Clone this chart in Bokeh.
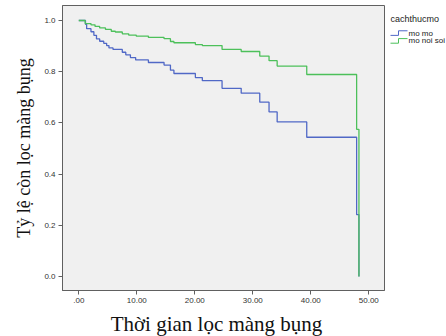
from bokeh.plotting import figure
from bokeh.layouts import row, column
from bokeh.models import FixedTicker, Range1d
from bokeh.core.properties import value
from bokeh.embed import file_html
from bokeh.resources import INLINE

# ---- data ----
time_mo_mo = [0, 1.15, 1.35, 2.1, 2.6, 3.05, 3.6, 4.3, 4.8, 5.2, 5.9, 7.5, 8.1, 8.9, 9.8,
              12.0, 14.7, 15.8, 16.4, 20.1, 21.3, 24.7, 28.0, 31.2, 32.8, 34.2, 39.3, 47.9, 48.3]
surv_mo_mo = [1.0, 0.985, 0.968, 0.956, 0.942, 0.928, 0.919, 0.911, 0.902, 0.893, 0.887, 0.876,
              0.866, 0.855, 0.846, 0.836, 0.826, 0.806, 0.793, 0.777, 0.765, 0.735, 0.716, 0.681,
              0.643, 0.604, 0.544, 0.242, 0.0]

time_mo_noi_soi = [0, 1.1, 2.1, 2.8, 3.6, 4.6, 5.6, 6.3, 7.5, 8.6, 9.9, 12.0, 14.7, 15.8, 16.4,
                   20.1, 21.3, 24.7, 28.0, 31.2, 32.8, 34.2, 39.3, 47.9, 48.3]
surv_mo_noi_soi = [1.0, 0.988, 0.983, 0.977, 0.971, 0.965, 0.958, 0.955, 0.948, 0.943, 0.939,
                   0.934, 0.929, 0.918, 0.913, 0.906, 0.902, 0.887, 0.879, 0.861, 0.843, 0.822,
                   0.789, 0.575, 0.0]

series_names = ["mo mo", "mo noi soi"]
series_colors = ["#5068c6", "#4cc05a"]
legend_title = "cachthucmo"

x_ticks = [0, 10, 20, 30, 40, 50]
x_tick_labels = [".00", "10.00", "20.00", "30.00", "40.00", "50.00"]
y_ticks = [0.0, 0.2, 0.4, 0.6, 0.8, 1.0]
y_tick_labels = ["0.0", "0.2", "0.4", "0.6", "0.8", "1.0"]

x_label = "Thời gian lọc màng bụng"
y_label = "Tỷ lệ còn lọc màng bụng"

# ---- layout helpers (pixel -> data) ----
X0, XS = 78.3, 5.8
Y0, YS = 276.0, 256.0
def dx(px):
    return (px - X0) / XS
def dy(py):
    return (Y0 - py) / YS

TOP_H = 310
p = figure(width=385, height=TOP_H, output_backend="svg", toolbar_location=None,
           x_range=Range1d(dx(62), dx(384)), y_range=Range1d(dy(290), dy(5)),
           min_border_left=62, min_border_right=1, min_border_top=5, min_border_bottom=20)
p.background_fill_color = "#f0f0f0"
p.border_fill_color = "white"
p.outline_line_color = "#606060"
p.outline_line_width = 1
p.grid.visible = False

for ax, ticks, labels in ((p.xaxis, x_ticks, x_tick_labels), (p.yaxis, y_ticks, y_tick_labels)):
    ax.ticker = FixedTicker(ticks=ticks)
    ax.major_label_overrides = {t: l for t, l in zip(ticks, labels)}
    ax.axis_line_color = "#606060"
    ax.major_tick_line_color = "#606060"
    ax.major_tick_out = 4
    ax.major_tick_in = 0
    ax.minor_tick_line_color = None
    ax.major_label_text_font = "Liberation Sans"
    ax.major_label_text_font_size = "8px"
    ax.major_label_text_color = "#333333"
    ax.major_label_standoff = 3

p.yaxis.axis_label = y_label
p.yaxis.axis_label_text_font = "Liberation Serif"
p.yaxis.axis_label_text_font_style = "normal"
p.yaxis.axis_label_text_color = "#111111"
p.yaxis.axis_label_text_font_size = "18px"
p.yaxis.axis_label_standoff = 7

p.step(time_mo_mo, surv_mo_mo, mode="after", line_color=series_colors[0], line_width=1.3)
p.step(time_mo_noi_soi, surv_mo_noi_soi, mode="after", line_color=series_colors[1], line_width=1.3)

# ---- legend panel (separate small figure, pixel coordinates) ----
lg = figure(width=446 - 385, height=TOP_H, output_backend="svg", toolbar_location=None,
            x_range=Range1d(385, 446), y_range=Range1d(TOP_H, 0),
            min_border=0, outline_line_color=None)
lg.axis.visible = False
lg.grid.visible = False
lg.background_fill_color = "white"
lg.border_fill_color = "white"

lg.text(x=[390], y=[15], text=[legend_title], text_font=value("Liberation Sans"),
        text_font_size="9px", text_color="#222222", text_align="left", text_baseline="middle")
for i, (name, col) in enumerate(zip(series_names, series_colors)):
    yc = 30 + 8.5 * i
    lg.line(x=[390, 398, 398, 407], y=[yc + 2.5, yc + 2.5, yc - 2.5, yc - 2.5],
            line_color=col, line_width=1)
    lg.text(x=[408], y=[yc], text=[name], text_font=value("Liberation Sans"),
            text_font_size="8px", text_color="#222222", text_align="left",
            text_baseline="middle")

# ---- x-axis title strip ----
bt = figure(width=446, height=336 - TOP_H, output_backend="svg", toolbar_location=None,
            x_range=Range1d(0, 446), y_range=Range1d(336, TOP_H),
            min_border=0, outline_line_color=None)
bt.axis.visible = False
bt.grid.visible = False
bt.background_fill_color = "white"
bt.border_fill_color = "white"
bt.text(x=[216], y=[323], text=[x_label], text_font=value("Liberation Serif"),
        text_font_size="21px", text_color="#111111", text_align="center",
        text_baseline="middle")

layout = column(row(p, lg, spacing=0), bt, spacing=0)
open("out.html", "w").write(file_html(layout, INLINE))
